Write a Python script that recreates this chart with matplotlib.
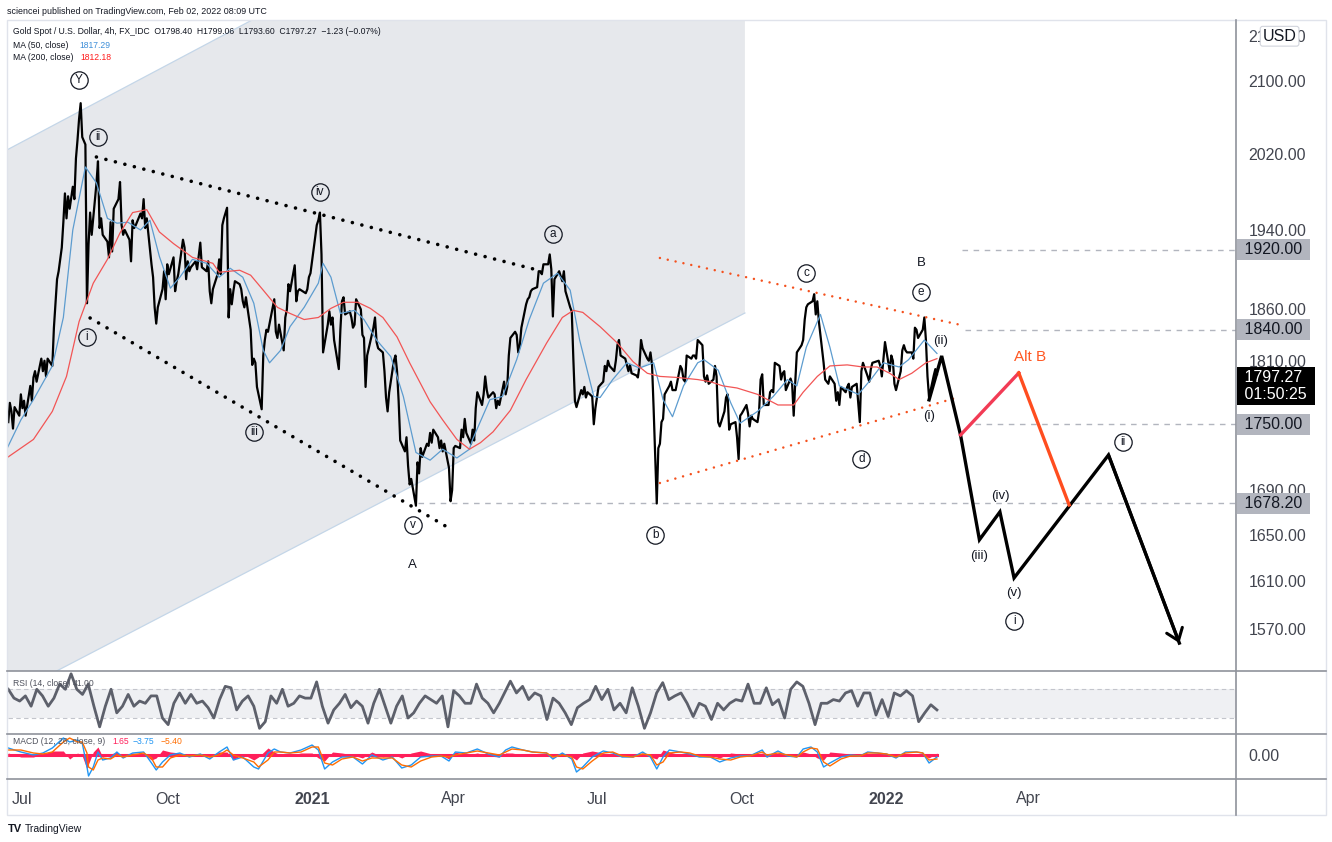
import matplotlib
matplotlib.use("Agg")
import matplotlib.pyplot as plt
import matplotlib.dates as mdates
from matplotlib.lines import Line2D
from matplotlib.patches import Rectangle
from matplotlib.ticker import NullLocator
import pandas as pd

plt.rcParams['font.family'] = ['Liberation Sans', 'DejaVu Sans']

# ---- price path (4h gold) ----
price_2020 = [
    ("06-22", 1752), ("06-23", 1770), ("06-24", 1762), ("06-25", 1746), ("06-26", 1766), ("06-29", 1758), ("06-30", 1778),
    ("07-01", 1765), ("07-02", 1772), ("07-03", 1758), ("07-06", 1786), ("07-07", 1772), ("07-08", 1794), ("07-09", 1800),
    ("07-10", 1790), ("07-13", 1812), ("07-14", 1800), ("07-15", 1810), ("07-16", 1795), ("07-17", 1812), ("07-20", 1805),
    ("07-21", 1842), ("07-22", 1866), ("07-23", 1890), ("07-24", 1898), ("07-26", 1922), ("07-27", 1948), ("07-28", 1978),
    ("07-29", 1952), ("07-30", 1975), ("07-31", 1962), ("08-02", 1985), ("08-03", 1972), ("08-04", 2015), ("08-05", 2035),
    ("08-06", 2058), ("08-07", 2075), ("08-08", 2038), ("08-10", 2030), ("08-11", 1866), ("08-12", 1925), ("08-13", 1958),
    ("08-14", 1935), ("08-17", 1988), ("08-18", 2012), ("08-19", 1942), ("08-20", 1952), ("08-21", 1935), ("08-24", 1928),
    ("08-25", 1912), ("08-26", 1948), ("08-27", 1918), ("08-28", 1962), ("08-31", 1972), ("09-01", 1990), ("09-02", 1945),
    ("09-03", 1935), ("09-04", 1940), ("09-07", 1930), ("09-08", 1908), ("09-09", 1950), ("09-10", 1942), ("09-11", 1945),
    ("09-14", 1957), ("09-15", 1952), ("09-16", 1972), ("09-17", 1942), ("09-18", 1952), ("09-21", 1905), ("09-22", 1892),
    ("09-23", 1862), ("09-24", 1846), ("09-25", 1862), ("09-28", 1880), ("09-29", 1898), ("09-30", 1870), ("10-01", 1905),
    ("10-02", 1895), ("10-05", 1912), ("10-06", 1878), ("10-07", 1888), ("10-08", 1895), ("10-11", 1930), ("10-12", 1922),
    ("10-13", 1890), ("10-14", 1908), ("10-15", 1898), ("10-16", 1902), ("10-19", 1908), ("10-20", 1900), ("10-22", 1927),
    ("10-23", 1902), ("10-26", 1898), ("10-27", 1908), ("10-28", 1878), ("10-29", 1866), ("10-30", 1880), ("11-02", 1895),
    ("11-03", 1910), ("11-04", 1895), ("11-05", 1945), ("11-06", 1952), ("11-08", 1963), ("11-09", 1852), ("11-10", 1880),
    ("11-11", 1865), ("11-12", 1878), ("11-13", 1888), ("11-16", 1885), ("11-17", 1880), ("11-18", 1868), ("11-19", 1862),
    ("11-20", 1872), ("11-23", 1840), ("11-24", 1806), ("11-25", 1812), ("11-26", 1808), ("11-27", 1785), ("11-30", 1764),
    ("12-01", 1815), ("12-02", 1830), ("12-03", 1840), ("12-04", 1838), ("12-07", 1862), ("12-08", 1870), ("12-09", 1838),
    ("12-10", 1832), ("12-11", 1845), ("12-14", 1820), ("12-15", 1852), ("12-16", 1860), ("12-17", 1885), ("12-18", 1878),
    ("12-21", 1904), ("12-22", 1868), ("12-23", 1878), ("12-24", 1880), ("12-28", 1876), ("12-29", 1880), ("12-30", 1892),
    ("12-31", 1896),
]
price_2021 = [
    ("01-04", 1945), ("01-05", 1950), ("01-06", 1958), ("01-07", 1915), ("01-08", 1818), ("01-11", 1845), ("01-12", 1858),
    ("01-13", 1845), ("01-14", 1852), ("01-15", 1830), ("01-18", 1802), ("01-19", 1840), ("01-20", 1868), ("01-21", 1872),
    ("01-22", 1855), ("01-25", 1858), ("01-26", 1852), ("01-27", 1842), ("01-28", 1845), ("01-29", 1870), ("02-01", 1860),
    ("02-02", 1835), ("02-03", 1832), ("02-04", 1785), ("02-05", 1815), ("02-08", 1835), ("02-09", 1842), ("02-10", 1852),
    ("02-11", 1828), ("02-12", 1822), ("02-15", 1818), ("02-16", 1800), ("02-17", 1775), ("02-18", 1762), ("02-19", 1780),
    ("02-22", 1810), ("02-23", 1815), ("02-24", 1800), ("02-25", 1772), ("02-26", 1735), ("03-01", 1725), ("03-02", 1738),
    ("03-03", 1712), ("03-04", 1695), ("03-05", 1700), ("03-08", 1676), ("03-09", 1715), ("03-10", 1705), ("03-11", 1728),
    ("03-12", 1720), ("03-15", 1732), ("03-16", 1730), ("03-17", 1742), ("03-18", 1733), ("03-19", 1745), ("03-22", 1738),
    ("03-23", 1728), ("03-24", 1735), ("03-25", 1725), ("03-26", 1732), ("03-29", 1710), ("03-30", 1680), ("03-31", 1690),
    ("04-01", 1728), ("04-02", 1730), ("04-05", 1728), ("04-06", 1745), ("04-07", 1738), ("04-08", 1755), ("04-09", 1742),
    ("04-12", 1732), ("04-13", 1745), ("04-14", 1735), ("04-15", 1765), ("04-16", 1780), ("04-19", 1768), ("04-20", 1778),
    ("04-21", 1795), ("04-22", 1782), ("04-23", 1775), ("04-26", 1780), ("04-27", 1778), ("04-28", 1765), ("04-29", 1772),
    ("04-30", 1768), ("05-03", 1790), ("05-04", 1778), ("05-05", 1785), ("05-06", 1815), ("05-07", 1832), ("05-10", 1838),
    ("05-11", 1835), ("05-12", 1818), ("05-13", 1825), ("05-14", 1842), ("05-17", 1865), ("05-18", 1870), ("05-19", 1872),
    ("05-20", 1878), ("05-21", 1880), ("05-24", 1882), ("05-25", 1898), ("05-26", 1898), ("05-27", 1895), ("05-28", 1905),
    ("05-31", 1905), ("06-01", 1915), ("06-02", 1900), ("06-03", 1853), ("06-04", 1890), ("06-07", 1898), ("06-08", 1893),
    ("06-09", 1888), ("06-10", 1898), ("06-11", 1878), ("06-14", 1862), ("06-15", 1858), ("06-16", 1812), ("06-17", 1772),
    ("06-18", 1766), ("06-21", 1782), ("06-22", 1778), ("06-23", 1785), ("06-24", 1775), ("06-25", 1780), ("06-28", 1776),
    ("06-29", 1750), ("06-30", 1765), ("07-01", 1775), ("07-02", 1785), ("07-05", 1790), ("07-06", 1805), ("07-07", 1800),
    ("07-08", 1810), ("07-09", 1805), ("07-12", 1800), ("07-13", 1810), ("07-14", 1825), ("07-15", 1830), ("07-16", 1815),
    ("07-19", 1812), ("07-20", 1806), ("07-21", 1800), ("07-22", 1806), ("07-23", 1798), ("07-26", 1796), ("07-27", 1794),
    ("07-28", 1805), ("07-29", 1830), ("07-30", 1822), ("08-02", 1812), ("08-03", 1810), ("08-04", 1818), ("08-05", 1806),
    ("08-06", 1765), ("08-08", 1678), ("08-09", 1728), ("08-10", 1732), ("08-11", 1752), ("08-12", 1755), ("08-13", 1778),
    ("08-16", 1786), ("08-17", 1790), ("08-18", 1782), ("08-19", 1782), ("08-20", 1782), ("08-23", 1805), ("08-24", 1802),
    ("08-25", 1792), ("08-26", 1790), ("08-27", 1815), ("08-30", 1812), ("08-31", 1815), ("09-01", 1815), ("09-02", 1812),
    ("09-03", 1830), ("09-06", 1825), ("09-07", 1795), ("09-08", 1790), ("09-09", 1796), ("09-10", 1788), ("09-13", 1792),
    ("09-14", 1805), ("09-15", 1795), ("09-16", 1752), ("09-17", 1748), ("09-20", 1762), ("09-21", 1775), ("09-22", 1778),
    ("09-23", 1745), ("09-24", 1750), ("09-27", 1752), ("09-28", 1738), ("09-29", 1718), ("09-30", 1758), ("10-01", 1760),
    ("10-04", 1768), ("10-05", 1760), ("10-06", 1748), ("10-07", 1758), ("10-08", 1755), ("10-11", 1752), ("10-12", 1762),
    ("10-13", 1792), ("10-14", 1797), ("10-15", 1768), ("10-18", 1768), ("10-19", 1780), ("10-20", 1782), ("10-21", 1780),
    ("10-22", 1808), ("10-25", 1805), ("10-26", 1792), ("10-27", 1798), ("10-28", 1800), ("10-29", 1782), ("11-01", 1793),
    ("11-02", 1788), ("11-03", 1758), ("11-04", 1790), ("11-05", 1818), ("11-08", 1825), ("11-09", 1830), ("11-10", 1850),
    ("11-11", 1862), ("11-12", 1865), ("11-15", 1868), ("11-16", 1875), ("11-17", 1855), ("11-18", 1868), ("11-19", 1848),
    ("11-22", 1808), ("11-23", 1792), ("11-24", 1790), ("11-25", 1788), ("11-26", 1795), ("11-29", 1788), ("11-30", 1772),
    ("12-01", 1780), ("12-02", 1768), ("12-03", 1785), ("12-06", 1780), ("12-07", 1785), ("12-08", 1788), ("12-09", 1775),
    ("12-10", 1785), ("12-13", 1788), ("12-14", 1770), ("12-15", 1752), ("12-16", 1800), ("12-17", 1808), ("12-20", 1795),
    ("12-21", 1790), ("12-22", 1802), ("12-23", 1808), ("12-27", 1810), ("12-28", 1805), ("12-29", 1795), ("12-30", 1812),
    ("12-31", 1828),
]
price_2022 = [
    ("01-03", 1800), ("01-04", 1815), ("01-05", 1810), ("01-06", 1788), ("01-07", 1782), ("01-10", 1800), ("01-11", 1820),
    ("01-12", 1825), ("01-13", 1820), ("01-14", 1818), ("01-17", 1818), ("01-18", 1812), ("01-19", 1842), ("01-20", 1840),
    ("01-21", 1832), ("01-24", 1840), ("01-25", 1852), ("01-26", 1830), ("01-27", 1795), ("01-28", 1775), ("01-31", 1796),
    ("02-01", 1802), ("02-02", 1797),
]

ma50 = [
    ("2020-06-21", 1727), ("2020-06-30", 1754), ("2020-07-08", 1773), ("2020-07-20", 1805), ("2020-07-27", 1852),
    ("2020-08-02", 1940), ("2020-08-10", 2006), ("2020-08-17", 1989), ("2020-08-24", 1952), ("2020-08-30", 1947),
    ("2020-09-06", 1948), ("2020-09-14", 1940), ("2020-09-20", 1950), ("2020-09-26", 1913), ("2020-10-03", 1881),
    ("2020-10-09", 1892), ("2020-10-17", 1910), ("2020-10-26", 1906), ("2020-11-03", 1892), ("2020-11-10", 1901),
    ("2020-11-18", 1892), ("2020-11-25", 1866), ("2020-12-01", 1820), ("2020-12-05", 1808), ("2020-12-12", 1820),
    ("2020-12-18", 1843), ("2020-12-27", 1862), ("2021-01-05", 1886), ("2021-01-08", 1906), ("2021-01-13", 1892),
    ("2021-01-19", 1856), ("2021-01-28", 1859), ("2021-02-03", 1850), ("2021-02-11", 1830), ("2021-02-20", 1814),
    ("2021-02-28", 1776), ("2021-03-08", 1724), ("2021-03-17", 1717), ("2021-03-25", 1727), ("2021-04-03", 1719),
    ("2021-04-11", 1727), ("2021-04-13", 1736), ("2021-04-24", 1773), ("2021-05-02", 1776), ("2021-05-11", 1811),
    ("2021-05-19", 1850), ("2021-05-28", 1886), ("2021-06-06", 1896), ("2021-06-14", 1879), ("2021-06-20", 1830),
    ("2021-06-29", 1776), ("2021-07-03", 1775), ("2021-07-11", 1792), ("2021-07-20", 1808), ("2021-07-28", 1803),
    ("2021-08-06", 1808), ("2021-08-12", 1773), ("2021-08-18", 1757), ("2021-08-25", 1786), ("2021-09-03", 1808),
    ("2021-09-07", 1811), ("2021-09-16", 1801), ("2021-09-24", 1770), ("2021-09-30", 1751), ("2021-10-11", 1762),
    ("2021-10-21", 1776), ("2021-10-30", 1792), ("2021-11-05", 1786), ("2021-11-11", 1823), ("2021-11-20", 1855),
    ("2021-11-26", 1823), ("2021-12-02", 1786), ("2021-12-14", 1778), ("2021-12-22", 1792), ("2021-12-30", 1808),
    ("2022-01-09", 1804), ("2022-01-15", 1811), ("2022-01-25", 1830), ("2022-02-02", 1817),
]
ma200 = [
    ("2020-06-21", 1719), ("2020-07-08", 1736), ("2020-07-20", 1762), ("2020-07-29", 1795), ("2020-08-06", 1848),
    ("2020-08-15", 1886), ("2020-08-24", 1910), ("2020-09-01", 1937), ("2020-09-09", 1958), ("2020-09-18", 1961),
    ("2020-09-26", 1938), ("2020-10-05", 1926), ("2020-10-17", 1912), ("2020-10-30", 1906), ("2020-11-03", 1897),
    ("2020-11-16", 1899), ("2020-11-23", 1894), ("2020-12-01", 1879), ("2020-12-10", 1862), ("2020-12-18", 1856),
    ("2020-12-27", 1850), ("2021-01-05", 1852), ("2021-01-13", 1861), ("2021-01-21", 1867), ("2021-01-30", 1867),
    ("2021-02-07", 1861), ("2021-02-15", 1852), ("2021-02-24", 1833), ("2021-03-04", 1808), ("2021-03-17", 1771),
    ("2021-03-25", 1754), ("2021-04-03", 1736), ("2021-04-11", 1727), ("2021-04-18", 1733), ("2021-04-26", 1743),
    ("2021-05-07", 1763), ("2021-05-17", 1792), ("2021-05-30", 1827), ("2021-06-09", 1852), ("2021-06-16", 1859),
    ("2021-06-22", 1857), ("2021-07-03", 1843), ("2021-07-14", 1827), ("2021-07-24", 1809), ("2021-08-02", 1798),
    ("2021-08-10", 1795), ("2021-08-21", 1794), ("2021-09-03", 1792), ("2021-09-11", 1790), ("2021-09-19", 1786),
    ("2021-09-28", 1784), ("2021-10-11", 1778), ("2021-10-24", 1768), ("2021-11-03", 1768), ("2021-11-09", 1780),
    ("2021-11-18", 1795), ("2021-11-26", 1805), ("2021-12-07", 1806), ("2021-12-17", 1804), ("2021-12-26", 1804),
    ("2022-01-03", 1798), ("2022-01-09", 1792), ("2022-01-17", 1798), ("2022-01-26", 1808), ("2022-02-02", 1812),
]

# RSI readings, two stretches sampled evenly in time
rsi_a = [69, 57, 53, 60, 46, 69, 60, 46, 57, 76, 69, 90, 69, 62, 76, 46, 18, 46, 69, 37,
         46, 62, 46, 53, 50, 60, 60, 30, 21, 50, 64, 50, 62, 50, 53, 44, 30, 55, 73, 71,
         41, 53, 60, 46, 16, 25, 60, 50, 69, 46, 50, 60, 57, 57, 79, 46, 23, 41, 50, 62,
         44, 53, 46, 23, 50, 69, 46, 23, 46, 60, 30, 37, 50, 60, 55, 50, 60, 18, 67, 60,
         50, 50, 76, 57, 50, 37, 50]
rsi_b = [80, 64, 73, 55, 64, 60, 28, 57, 50, 37, 21, 44, 50, 55, 73, 55, 69, 41, 50, 37,
         71, 46, 16, 37, 64, 78, 55, 60, 64, 50, 32, 50, 46, 28, 50, 41, 50, 55, 53, 76,
         50, 50, 71, 48, 55, 30, 69, 79, 73, 50, 21, 50, 50, 55, 53, 64, 67, 46, 64, 64,
         34, 55, 32, 64, 60, 67, 60, 25, 37, 48, 41]
rsi_a_span = ("2020-06-22", "2021-04-30")
rsi_b_span = ("2021-05-07", "2022-02-02")

# MACD readings: date, macd line, signal line
macd_rows = [
    ("2020-06-22", 7, 5), ("2020-06-30", 3, 5), ("2020-07-08", 0, 2), ("2020-07-14", 2, 1), ("2020-07-20", 7, 3),
    ("2020-07-27", 17, 13), ("2020-07-31", 13, 17), ("2020-08-05", 15, 13), ("2020-08-08", 12, 13), ("2020-08-11", -12, 2),
    ("2020-08-12", -21, -12), ("2020-08-15", -12, -15), ("2020-08-18", 3, -5), ("2020-08-21", -5, -3), ("2020-08-26", -3, -4),
    ("2020-08-30", 3, 0), ("2020-09-03", -3, -2), ("2020-09-09", 2, 0), ("2020-09-16", 3, 2), ("2020-09-21", -8, -3),
    ("2020-09-24", -15, -12), ("2020-09-28", -7, -12), ("2020-10-03", 0, -3), ("2020-10-09", 2, 0), ("2020-10-15", -2, -1),
    ("2020-10-22", 1, 0), ("2020-10-28", -4, -2), ("2020-11-03", 3, 0), ("2020-11-08", 8, 5), ("2020-11-12", -5, 0),
    ("2020-11-18", -2, -3), ("2020-11-25", -12, -7), ("2020-11-28", -14, -12), ("2020-12-04", 2, -5), ("2020-12-08", 6, 3),
    ("2020-12-12", 3, 3), ("2020-12-18", 2, 2), ("2020-12-25", 5, 3), ("2021-01-01", 10, 8), ("2021-01-05", 5, 8),
    ("2021-01-09", -14, -8), ("2021-01-14", -7, -10), ("2021-01-20", -2, -4), ("2021-01-27", -2, -2), ("2021-02-02", -9, -6),
    ("2021-02-08", 0, -3), ("2021-02-15", -5, -3), ("2021-02-21", -2, -3), ("2021-02-27", -13, -10), ("2021-03-05", -10, -12),
    ("2021-03-11", -2, -6), ("2021-03-18", -1, -2), ("2021-03-24", -1, -1), ("2021-03-29", -6, -2), ("2021-04-02", 3, 0),
    ("2021-04-09", 2, 2), ("2021-04-16", 6, 4), ("2021-04-23", 1, 2), ("2021-04-30", -2, 0), ("2021-05-04", 5, 3),
    ("2021-05-08", 8, 6), ("2021-05-15", 5, 5), ("2021-05-21", 3, 3), ("2021-05-30", 2, 2), ("2021-06-03", -4, -2),
    ("2021-06-09", 2, 0), ("2021-06-15", -4, -2), ("2021-06-18", -17, -12), ("2021-06-22", -12, -14), ("2021-06-28", -2, -6),
    ("2021-07-05", 4, 2), ("2021-07-11", 2, 3), ("2021-07-17", -2, -1), ("2021-07-24", -2, -2), ("2021-07-30", 3, 1),
    ("2021-08-04", -2, 0), ("2021-08-08", -14, -10), ("2021-08-12", -2, -7), ("2021-08-16", 5, 2), ("2021-08-23", 3, 3),
    ("2021-08-29", 1, 2), ("2021-09-04", -2, -1), ("2021-09-11", -2, -2), ("2021-09-17", -7, -4), ("2021-09-24", -3, -5),
    ("2021-09-30", -1, -2), ("2021-10-06", -1, -1), ("2021-10-14", 5, 3), ("2021-10-17", -2, 0), ("2021-10-24", 4, 2),
    ("2021-10-30", -1, 0), ("2021-11-05", -2, -2), ("2021-11-09", 6, 3), ("2021-11-14", 8, 7), ("2021-11-18", 3, 6),
    ("2021-11-22", -12, -7), ("2021-11-26", -8, -11), ("2021-12-03", -2, -4), ("2021-12-09", 0, -1), ("2021-12-15", -1, -1),
    ("2021-12-20", 3, 2), ("2021-12-26", 2, 2), ("2022-01-01", 1, 1), ("2022-01-07", -3, -2), ("2022-01-13", 3, 2),
    ("2022-01-20", 3, 3), ("2022-01-24", 2, 2), ("2022-01-28", -8, -5), ("2022-02-02", -2, -4),
]

# ---- drawings ----
channel_dates = ["2020-06-21", "2021-10-03", "2021-10-03", "2020-06-21"]
channel_prices = [2024, 2491, 1856.4, 1514.3]
wedge_upper = (["2020-08-17", "2021-05-24"], [2016.6, 1899.3])
wedge_lower = (["2020-08-13", "2021-03-31"], [1851.5, 1654.6])
tri_upper = (["2021-08-10", "2022-02-20"], [1911.4, 1843.7])
tri_lower = (["2021-08-10", "2022-02-14"], [1696.3, 1774.6])
proj_dates = ["2022-01-28", "2022-02-05", "2022-02-17", "2022-03-01", "2022-03-14", "2022-03-23", "2022-05-22", "2022-07-06"]
proj_prices = [1772.8, 1814.6, 1740.1, 1646.0, 1670.5, 1613.0, 1721.7, 1558.2]
alt_dates = ["2022-02-17", "2022-03-26", "2022-04-27"]
alt_prices = [1740.1, 1798.3, 1676.7]
levels = [1920.0, 1840.0, 1750.0, 1678.2]
level_starts = ["2022-02-18", "2022-02-20", "2022-02-26", "2021-03-09"]
level_labels = ["1920.00", "1840.00", "1750.00", "1678.20"]

circled = [("Y", "2020-08-06", 2100.6), ("ii", "2020-08-18", 2038.1), ("i", "2020-08-11", 1833.0),
           ("iv", "2021-01-06", 1979.5), ("iii", "2020-11-25", 1742.9), ("v", "2021-03-06", 1659.0),
           ("a", "2021-06-03", 1935.9), ("b", "2021-08-07", 1650.2), ("c", "2021-11-11", 1896.3),
           ("d", "2021-12-16", 1718.1), ("e", "2022-01-23", 1877.2), ("i", "2022-03-23", 1576.6),
           ("ii", "2022-05-31", 1733.7)]
plain = [("A", "2021-03-06", 1624.1), ("B", "2022-01-23", 1906.3), ("(ii)", "2022-02-04", 1829.1),
         ("(i)", "2022-01-28", 1757.7), ("(iv)", "2022-03-14", 1684.7), ("(iii)", "2022-03-01", 1631.9),
         ("(v)", "2022-03-23", 1600.3)]

price_ticks = [2150, 2100, 2020, 1940, 1860, 1810, 1690, 1650, 1610, 1570]
month_ticks = ["2020-07-01", "2020-10-01", "2021-01-01", "2021-04-01", "2021-07-01", "2021-10-01", "2022-01-01", "2022-04-01"]
month_labels = ["Jul", "Oct", "2021", "Apr", "Jul", "Oct", "2022", "Apr"]


def frame(rows, year):
    return pd.DataFrame({"date": pd.to_datetime([f"{year}-{d}" for d, _ in rows]),
                         "price": [p for _, p in rows]})


price = pd.concat([frame(price_2020, 2020), frame(price_2021, 2021), frame(price_2022, 2022)])
ma50_df = pd.DataFrame(ma50, columns=["date", "v"]); ma50_df["date"] = pd.to_datetime(ma50_df["date"])
ma200_df = pd.DataFrame(ma200, columns=["date", "v"]); ma200_df["date"] = pd.to_datetime(ma200_df["date"])
macd = pd.DataFrame(macd_rows, columns=["date", "macd", "signal"]); macd["date"] = pd.to_datetime(macd["date"])
macd["hist"] = macd["macd"] - macd["signal"]
rsi_dates = pd.date_range(*rsi_a_span, periods=len(rsi_a)).append(pd.date_range(*rsi_b_span, periods=len(rsi_b)))
rsi_vals = rsi_a + rsi_b

W, H = 1332, 842
fig = plt.figure(figsize=(W / 100, H / 100), dpi=100)


def box(l, t, r, b):
    return [l / W, 1 - b / H, (r - l) / W, (b - t) / H]


ax = fig.add_axes(box(8, 20, 1236, 671))
ax_rsi = fig.add_axes(box(8, 671, 1236, 734), sharex=ax)
ax_macd = fig.add_axes(box(8, 734, 1236, 779), sharex=ax)
for a in (ax, ax_rsi, ax_macd):
    for s in a.spines.values():
        s.set_visible(False)
    a.tick_params(axis="x", bottom=False, labelbottom=False)

D = pd.to_datetime
ax.set_yscale("log")
ax.set_ylim(1535.3, 2168.6)
ax.set_xlim(D("2020-06-21 20:00"), D("2022-08-11"))

# channel
cx = mdates.date2num(D(channel_dates))
ax.fill(cx, channel_prices, color="#e6e8ec", lw=0, zorder=0.5)
ax.plot(cx[:2], channel_prices[:2], color="#c4d6e8", lw=0.9, zorder=0.6)
ax.plot(cx[2:], channel_prices[2:], color="#c4d6e8", lw=0.9, zorder=0.6)

ax.plot(price["date"], price["price"], color="black", lw=1.6, zorder=3)
ax.plot(ma50_df["date"], ma50_df["v"], color="#5d9ccf", lw=0.9, zorder=4)
ax.plot(ma200_df["date"], ma200_df["v"], color="#f25555", lw=0.9, zorder=4)

dot_black = dict(color="black", lw=2.6, linestyle=(0, (0.01, 2.7)), dash_capstyle="round", zorder=5)
dot_red = dict(color="#f4511e", lw=1.8, linestyle=(0, (0.01, 3.2)), dash_capstyle="round", zorder=5)
ax.plot(D(wedge_upper[0]), wedge_upper[1], **dot_black)
ax.plot(D(wedge_lower[0]), wedge_lower[1], **dot_black)
ax.plot(D(tri_upper[0]), tri_upper[1], **dot_red)
ax.plot(D(tri_lower[0]), tri_lower[1], **dot_red)

xmax = ax.get_xlim()[1]
for lv, st in zip(levels, level_starts):
    ax.hlines(lv, mdates.date2num(D(st)), xmax, colors="#b2b5be", lw=1.0, linestyles=(0, (4, 4)), zorder=2)

# projections
ax.plot(D(proj_dates), proj_prices, color="black", lw=2.4, zorder=6, solid_joinstyle="miter")
ax.annotate("", xy=(D(proj_dates[-1]), proj_prices[-1]), xytext=(D(proj_dates[-2]), proj_prices[-2]),
            arrowprops=dict(arrowstyle="->,head_length=0.8,head_width=0.6", color="black", lw=2.2,
                            shrinkA=0, shrinkB=0), zorder=6)
ax.plot(D(alt_dates[:2]), alt_prices[:2], color="#f23b55", lw=2.4, zorder=6)
ax.plot(D(alt_dates[1:]), alt_prices[1:], color="#ff4d1f", lw=2.4, zorder=6)
ax.text(D("2022-04-02"), 1813.6, "Alt B", color="#ff5722", fontsize=11, ha="center", va="center", zorder=7)

for lab, d, p in circled:
    ax.plot(D(d), p, marker="o", ms=12.5, mfc="none", mec="#131722", mew=0.9, zorder=7)
    ax.text(D(d), p, lab, ha="center", va="center", fontsize=8.5, color="#131722", zorder=7)
for lab, d, p in plain:
    ax.text(D(d), p, lab, ha="center", va="center", fontsize=9.5, color="#131722", zorder=7)

# right price scale
ax.yaxis.tick_right()
ax.yaxis.set_minor_locator(NullLocator())
ax.set_yticks(price_ticks)
ax.set_yticklabels([f"{v:.2f}" for v in price_ticks])
ax.tick_params(axis="y", length=0, pad=9, labelsize=11.5, labelcolor="#42454f")
yt = ax.get_yaxis_transform()
for lv, lab in zip(levels, level_labels):
    ax.text(1.0035, lv, f" {lab} ", transform=yt, ha="left", va="center", fontsize=11.5, color="#131722",
            bbox=dict(boxstyle="square,pad=0.2", fc="#b2b5be", ec="none"), clip_on=False, zorder=10)
ax.text(1.0035, 1786, " 1797.27 \n 01:50:25 ", transform=yt, ha="left", va="center", fontsize=11.5,
        color="white", linespacing=1.15, bbox=dict(boxstyle="square,pad=0.2", fc="black", ec="none"),
        clip_on=False, zorder=10)
ax.text(1.0355, 2150, "USD", transform=yt, ha="center", va="center", fontsize=11.5, color="#131722",
        bbox=dict(boxstyle="round,pad=0.15", fc="white", ec="#d1d4dc", lw=0.8), clip_on=False, zorder=10)

# RSI panel
ax_rsi.set_ylim(8.3, 93.8)
ax_rsi.axhspan(30, 70, color="#eff0f3", lw=0, zorder=0)
for lv in (30, 70):
    ax_rsi.axhline(lv, color="#c3c5cc", lw=0.8, linestyle=(0, (4, 3)), zorder=1)
ax_rsi.plot(rsi_dates, rsi_vals, color="#5d606b", lw=2.0, zorder=3)
ax_rsi.set_yticks([])

# MACD panel
pink = "#ff1f5a"
ax_macd.set_ylim(-24, 21)
ax_macd.fill_between(macd["date"], macd["hist"], 0, color=pink, lw=0, zorder=2)
ax_macd.plot([macd["date"].iloc[0], macd["date"].iloc[-1]], [0, 0], color=pink, lw=2.2, zorder=2)
ax_macd.plot(macd["date"], macd["macd"], color="#2196f3", lw=1.0, zorder=3)
ax_macd.plot(macd["date"], macd["signal"], color="#ff6d00", lw=1.0, zorder=3)
ax_macd.yaxis.tick_right()
ax_macd.set_yticks([0])
ax_macd.set_yticklabels(["0.00"])
ax_macd.tick_params(axis="y", length=0, pad=9, labelsize=11.5, labelcolor="#42454f")
ax_macd.set_xticks(D(month_ticks))
ax_macd.set_xticklabels(month_labels)
ax_macd.tick_params(axis="x", bottom=False, labelbottom=True, length=0, pad=9, labelsize=11.5, labelcolor="#42454f")
for t in ax_macd.get_xticklabels():
    if t.get_text() in ("2021", "2022"):
        t.set_fontweight("bold")

# frame & separators
def fline(x0, y0, x1, y1, color, lw):
    fig.add_artist(Line2D([x0 / W, x1 / W], [1 - y0 / H, 1 - y1 / H], color=color, lw=lw))

fig.add_artist(Rectangle((7 / W, 1 - 815 / H), (1326 - 7) / W, (815 - 20) / H, fill=False,
                         ec="#e0e3eb", lw=1.0, transform=fig.transFigure))
for yy in (671, 734, 779):
    fline(7, yy, 1326, yy, "#8f929b", 1.2)
fline(1236, 20, 1236, 815, "#8f929b", 1.2)

# header texts
def ftext(x, y, s, **kw):
    fig.text(x / W, 1 - y / H, s, va="center", ha="left", **kw)

ftext(7, 12, "sciencei published on TradingView.com, Feb 02, 2022 08:09 UTC", fontsize=6.4, color="#131722")
ftext(13, 32, "Gold Spot / U.S. Dollar, 4h, FX_IDC  O1798.40  H1799.06  L1793.60  C1797.27  \u22121.23 (\u22120.07%)",
      fontsize=6.2, color="#131722")
ftext(13, 45, "MA (50, close)", fontsize=6.2, color="#131722")
ftext(79, 45, "1817.29", fontsize=6.2, color="#3d8ed8")
ftext(13, 58, "MA (200, close)", fontsize=6.2, color="#131722")
ftext(80, 58, "1812.18", fontsize=6.2, color="#ff1a1a")
ftext(13, 684, "RSI (14, close)", fontsize=6.2, color="#50535e")
ftext(73, 684, "41.00", fontsize=6.2, color="#50535e")
ftext(13, 741, "MACD (12, 26, close, 9)", fontsize=6.2, color="#50535e")
ftext(112, 741, "1.65", fontsize=6.2, color=pink)
ftext(133, 741, "\u22123.75", fontsize=6.2, color="#2196f3")
ftext(161, 741, "\u22125.40", fontsize=6.2, color="#ff6d00")
ftext(8, 829, "TV", fontsize=8, color="#131722", fontweight="bold")
ftext(25, 829, "TradingView", fontsize=7.5, color="#131722")

fig.savefig("out.png", dpi=100, facecolor="white")
